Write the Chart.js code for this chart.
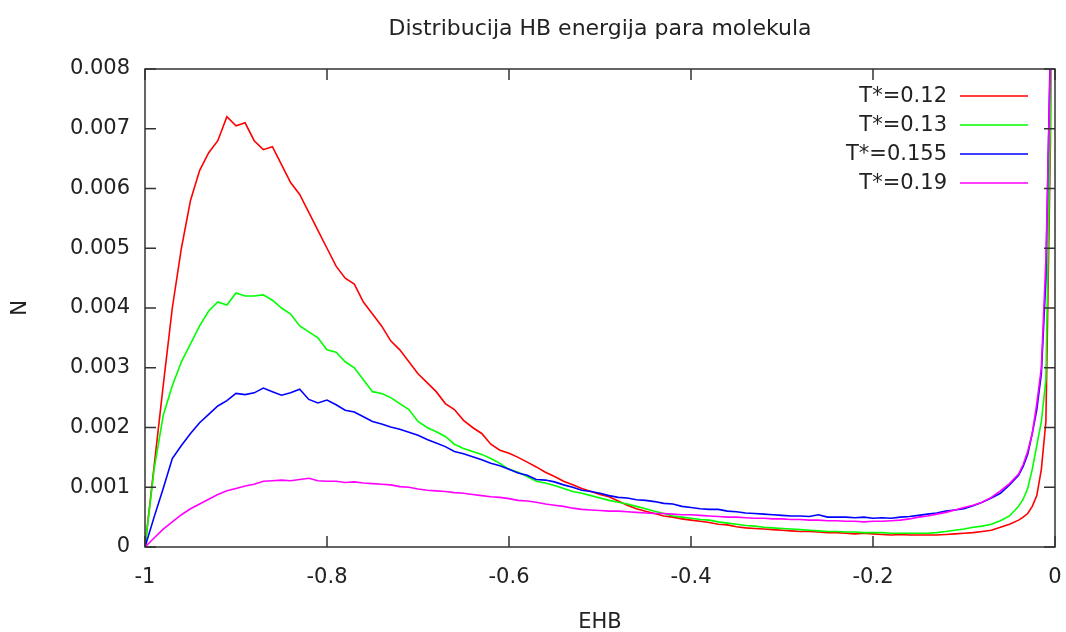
<!DOCTYPE html>
<html>
<head>
<meta charset="utf-8">
<script src="https://cdn.jsdelivr.net/npm/chart.js@4.4.1/dist/chart.umd.min.js"></script>
<style>
  body { margin: 0; background: #fff; }
  #wrap { width: 1066px; height: 632px; position: relative; }
</style>
</head>
<body>
<div id="wrap"><canvas id="chart"></canvas></div>
<script>
// EHB values (x axis)
const ehb = [
  -1.00, -0.99, -0.98, -0.97, -0.96, -0.95, -0.94, -0.93, -0.92, -0.91,
  -0.90, -0.89, -0.88, -0.87, -0.86, -0.85, -0.84, -0.83, -0.82, -0.81,
  -0.80, -0.79, -0.78, -0.77, -0.76, -0.75, -0.74, -0.73, -0.72, -0.71,
  -0.70, -0.69, -0.68, -0.67, -0.66, -0.65, -0.64, -0.63, -0.62, -0.61,
  -0.60, -0.59, -0.58, -0.57, -0.56, -0.55, -0.54, -0.53, -0.52, -0.51,
  -0.50, -0.49, -0.48, -0.47, -0.46, -0.45, -0.44, -0.43, -0.42, -0.41,
  -0.40, -0.39, -0.38, -0.37, -0.36, -0.35, -0.34, -0.33, -0.32, -0.31,
  -0.30, -0.29, -0.28, -0.27, -0.26, -0.25, -0.24, -0.23, -0.22, -0.21,
  -0.20, -0.19, -0.18, -0.17, -0.16, -0.15, -0.14, -0.13, -0.12, -0.11,
  -0.10, -0.09, -0.08, -0.07, -0.06, -0.05, -0.04, -0.035, -0.03, -0.025,
  -0.02, -0.015, -0.01, -0.005, 0
];

const t012 = [
  0, 0.00135, 0.0027, 0.0040, 0.0050, 0.0058, 0.0063, 0.0066, 0.0068, 0.0072,
  0.00705, 0.0071, 0.0068, 0.00665, 0.0067, 0.0064, 0.0061, 0.0059, 0.0056, 0.0053,
  0.0050, 0.0047, 0.0045, 0.0044, 0.0041, 0.0039, 0.0037, 0.00345, 0.0033, 0.0031,
  0.0029, 0.00275, 0.0026, 0.0024, 0.0023, 0.00212, 0.0020, 0.0019, 0.00172, 0.00162,
  0.00157, 0.0015, 0.00142, 0.00134, 0.00125, 0.00118, 0.0011, 0.00104, 0.00098, 0.00093,
  0.00088, 0.00084, 0.00077, 0.0007, 0.00064, 0.0006, 0.00056, 0.00052, 0.0005, 0.00047,
  0.00045, 0.00043, 0.00041, 0.00038, 0.00037, 0.00034, 0.00032, 0.00031, 0.0003, 0.00029,
  0.00028, 0.00027, 0.00026, 0.00026, 0.00025, 0.00024, 0.00024, 0.00023, 0.00022, 0.00023,
  0.00022, 0.00021, 0.0002, 0.00021, 0.0002, 0.0002, 0.0002, 0.0002, 0.00021, 0.00022,
  0.00023, 0.00024, 0.00026, 0.00028, 0.00033, 0.00038, 0.00045, 0.0005, 0.00056, 0.00068,
  0.00086, 0.0013, 0.0021, 0.0068, 0.02
];

const t013 = [
  0, 0.0013, 0.0022, 0.0027, 0.0031, 0.0034, 0.0037, 0.00395, 0.0041, 0.00405,
  0.00425, 0.0042, 0.0042, 0.00422, 0.00413, 0.0040, 0.0039, 0.0037, 0.0036, 0.0035,
  0.0033, 0.00326, 0.0031, 0.0030, 0.0028, 0.0026, 0.00257, 0.0025, 0.0024, 0.0023,
  0.0021, 0.0020, 0.00193, 0.00185, 0.00172, 0.00165, 0.0016, 0.00155, 0.00148, 0.0014,
  0.0013, 0.00125, 0.00118, 0.0011, 0.00107, 0.00103, 0.00098, 0.00093, 0.0009, 0.00086,
  0.00082, 0.00078, 0.00075, 0.00072, 0.00068, 0.00064, 0.0006, 0.00056, 0.00052, 0.0005,
  0.00048, 0.00046, 0.00045, 0.00042, 0.0004, 0.00038, 0.00036, 0.00035, 0.00033, 0.00032,
  0.00031, 0.0003, 0.00029, 0.00028, 0.00027, 0.00026, 0.00026, 0.00025, 0.00025, 0.00024,
  0.00024, 0.00024, 0.00023, 0.00023, 0.00023, 0.00023, 0.00023, 0.00024, 0.00026, 0.00028,
  0.0003, 0.00033, 0.00035, 0.00038, 0.00044, 0.00052, 0.00068, 0.0008, 0.00098, 0.0013,
  0.0017, 0.0021, 0.0028, 0.0072, 0.02
];

const t0155 = [
  0, 0.0005, 0.00098, 0.00148, 0.0017, 0.0019, 0.00208, 0.00222, 0.00236, 0.00245,
  0.00257, 0.00255, 0.00258, 0.00266, 0.0026, 0.00254, 0.00258, 0.00264, 0.00247, 0.00241,
  0.00246, 0.00238, 0.00229, 0.00226, 0.00218, 0.0021, 0.00206, 0.00201, 0.00197, 0.00192,
  0.00187, 0.0018, 0.00174, 0.00168, 0.0016, 0.00156, 0.00151, 0.00146, 0.0014, 0.00136,
  0.0013, 0.00124, 0.0012, 0.00113, 0.00112, 0.00109, 0.00104, 0.001, 0.00095, 0.00093,
  0.0009, 0.00086, 0.00083, 0.00082, 0.00079, 0.00078, 0.00076, 0.00073, 0.00072, 0.00068,
  0.00066, 0.00064, 0.00063, 0.00063, 0.0006, 0.00059, 0.00057, 0.00056, 0.00055, 0.00054,
  0.00053, 0.00052, 0.00052, 0.00051, 0.00054, 0.0005, 0.0005, 0.0005, 0.00049, 0.0005,
  0.00048, 0.00049, 0.00048, 0.0005, 0.00051, 0.00053, 0.00055, 0.00057, 0.0006, 0.00062,
  0.00064, 0.00069, 0.00075, 0.00082, 0.0009, 0.00104, 0.0012, 0.00135, 0.00155, 0.0019,
  0.0023, 0.0029, 0.0045, 0.0085, 0.02
];

const t019 = [
  0, 0.00015, 0.0003, 0.00042, 0.00054, 0.00064, 0.00072, 0.0008, 0.00088, 0.00094,
  0.00098, 0.00102, 0.00105, 0.0011, 0.00111, 0.00112, 0.00111, 0.00113, 0.00115, 0.00111,
  0.0011, 0.0011, 0.00108, 0.00109, 0.00107, 0.00106, 0.00105, 0.00104, 0.00101, 0.001,
  0.00097, 0.00095, 0.00094, 0.00093, 0.00091, 0.0009, 0.00088, 0.00086, 0.00084, 0.00083,
  0.00081, 0.00078, 0.00077, 0.00075, 0.00072, 0.0007, 0.00068, 0.00065, 0.00063, 0.00062,
  0.00061, 0.0006, 0.0006, 0.00059, 0.00058, 0.00057, 0.00056, 0.00056, 0.00055, 0.00054,
  0.00054, 0.00053, 0.00052, 0.00051, 0.0005, 0.0005, 0.00049, 0.00048, 0.00048, 0.00047,
  0.00047, 0.00046, 0.00046, 0.00045, 0.00045, 0.00044, 0.00044, 0.00043, 0.00043, 0.00042,
  0.00043, 0.00043, 0.00044, 0.00045, 0.00047, 0.0005, 0.00052, 0.00055, 0.00058, 0.00062,
  0.00066, 0.0007, 0.00075, 0.00083, 0.00094, 0.00106, 0.00122, 0.00138, 0.0016, 0.0019,
  0.0024, 0.003, 0.0048, 0.0082, 0.02
];

const labels = ['T*=0.12', 'T*=0.13', 'T*=0.155', 'T*=0.19'];
const colors = ['#ff0000', '#00ff00', '#0000ff', '#ff00ff'];
const series = [t012, t013, t0155, t019];

const FONT = 'DejaVu Sans';
const TXT = '#222';
const TICK = 11;

// gnuplot style box + inward ticks on all four sides, legend in the top right
const gnuFrame = {
    id: 'gnuFrame',
    afterDatasetsDraw(chart) {
        const { ctx, chartArea: a, scales: { x, y } } = chart;
        ctx.save();
        ctx.strokeStyle = '#333';
        ctx.lineWidth = 1.5;
        ctx.beginPath();
        x.ticks.forEach(t => {
            const px = x.getPixelForValue(t.value);
            ctx.moveTo(px, a.bottom); ctx.lineTo(px, a.bottom - TICK);
            ctx.moveTo(px, a.top); ctx.lineTo(px, a.top + TICK);
        });
        y.ticks.forEach(t => {
            const py = y.getPixelForValue(t.value);
            ctx.moveTo(a.left, py); ctx.lineTo(a.left + TICK, py);
            ctx.moveTo(a.right, py); ctx.lineTo(a.right - TICK, py);
        });
        ctx.stroke();
        ctx.strokeRect(a.left, a.top, a.right - a.left, a.bottom - a.top);

        ctx.font = '21px "' + FONT + '"';
        ctx.textAlign = 'right';
        ctx.textBaseline = 'middle';
        chart.data.datasets.forEach((ds, i) => {
            const ly = a.top + 27 + i * 29;
            ctx.fillStyle = TXT;
            ctx.fillText(ds.label, a.right - 108, ly + 1);
            ctx.strokeStyle = ds.borderColor;
            ctx.lineWidth = 1.5;
            ctx.beginPath();
            ctx.moveTo(a.right - 95, ly);
            ctx.lineTo(a.right - 27, ly);
            ctx.stroke();
        });
        ctx.restore();
    }
};

new Chart(document.getElementById('chart'), {
    type: 'line',
    data: {
        datasets: series.map((s, i) => ({
            label: labels[i],
            data: ehb.map((x, j) => ({ x: x, y: s[j] })),
            borderColor: colors[i],
            borderWidth: 1.6,
            pointRadius: 0,
            tension: 0,
            fill: false,
            clip: 0,
            order: 4 - i
        }))
    },
    options: {
        responsive: true,
        maintainAspectRatio: false,
        animation: false,
        layout: { padding: { left: 0, right: 11, top: 0, bottom: 0 } },
        plugins: {
            legend: { display: false },
            tooltip: { enabled: false },
            title: {
                display: true,
                fullSize: false,
                text: 'Distribucija HB energija para molekula',
                color: TXT,
                font: { family: FONT, size: 22, weight: 'normal', lineHeight: 1.2 },
                padding: { top: 16, bottom: 26.6 }
            }
        },
        scales: {
            x: {
                type: 'linear',
                min: -1,
                max: 0,
                afterFit: s => {
                    s.height = 85;
                    s.paddingLeft = 0;
                    s.paddingRight = 0;
                },
                grid: { display: false, drawTicks: false },
                border: { display: false },
                ticks: {
                    stepSize: 0.2,
                    padding: 18,
                    color: TXT,
                    font: { family: FONT, size: 21 },
                    maxRotation: 0,
                    callback: v => String(Math.round(v * 10) / 10)
                },
                title: {
                    display: true,
                    text: 'EHB',
                    color: TXT,
                    font: { family: FONT, size: 21, lineHeight: 1 },
                    padding: { top: 0, bottom: -1 }
                }
            },
            y: {
                min: 0,
                max: 0.008,
                afterFit: s => { s.width = 145; },
                grid: { display: false, drawTicks: false },
                border: { display: false },
                ticks: {
                    stepSize: 0.001,
                    padding: 15,
                    color: TXT,
                    font: { family: FONT, size: 21 },
                    callback: v => Math.abs(v) < 1e-9 ? '0' : v.toFixed(3)
                },
                title: {
                    display: true,
                    text: 'N',
                    color: TXT,
                    font: { family: FONT, size: 21, lineHeight: 1.2 },
                    padding: { top: 8, bottom: 0 }
                }
            }
        }
    },
    plugins: [gnuFrame]
});
</script>
</body>
</html>
